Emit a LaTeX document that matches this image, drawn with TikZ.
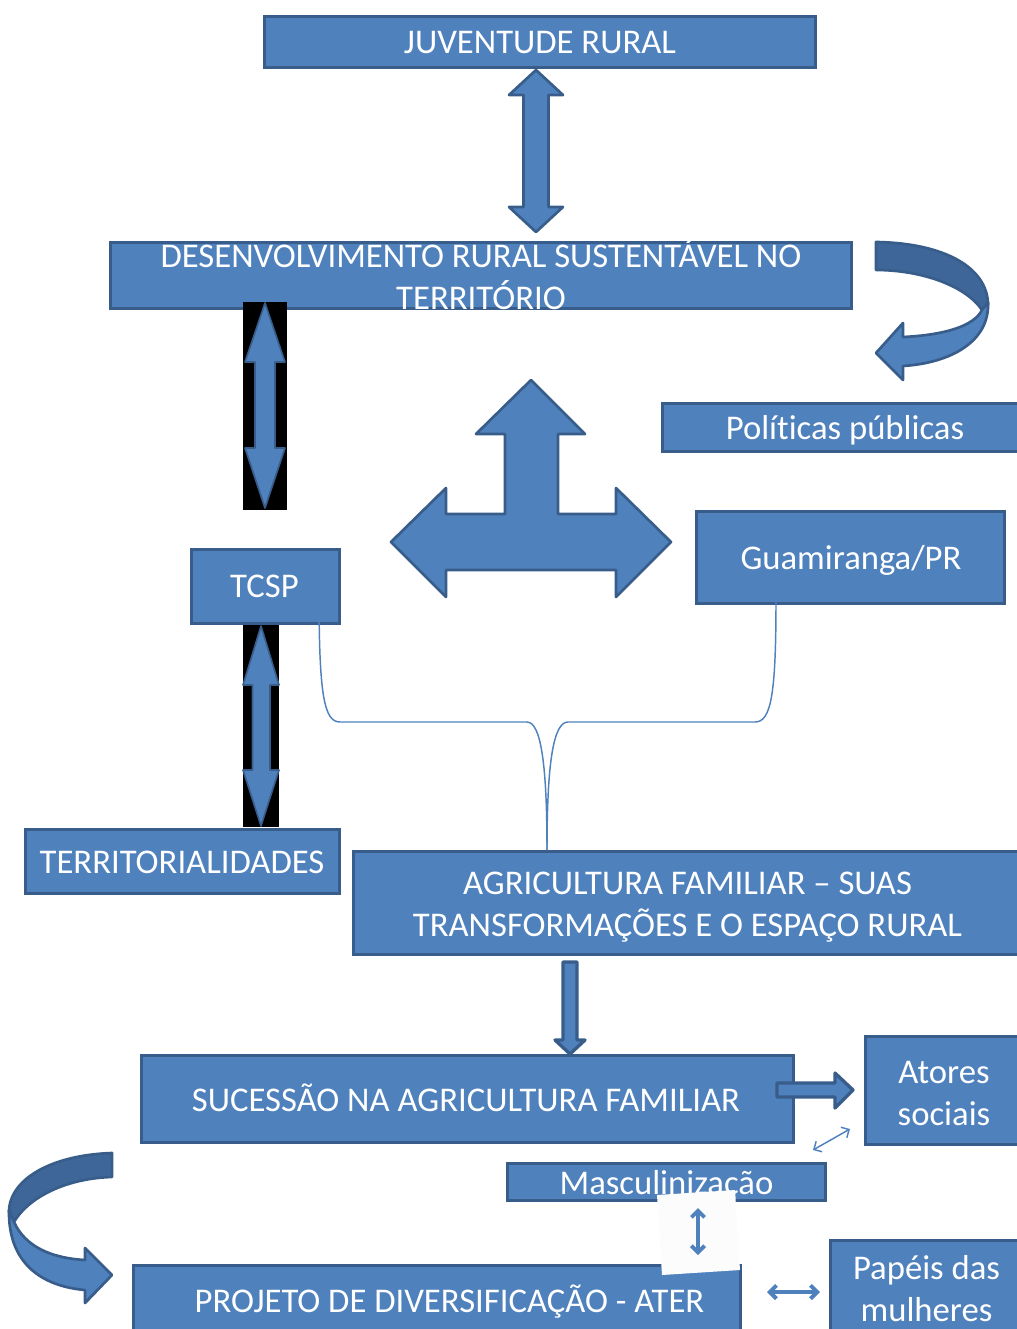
\documentclass[tikz,border=0pt]{standalone}
\usepackage{fontspec}
\setmainfont{Carlito}[Ligatures=NoCommon]
\usetikzlibrary{arrows.meta}
\definecolor{boxblue}{RGB}{79,129,189}
\definecolor{boxline}{RGB}{56,93,138}
\definecolor{bandblue}{RGB}{62,102,152}
\tikzset{every picture/.style={line width=0.75pt}}
\tikzset{
  box/.style={draw=boxline, fill=boxblue, line width=2.25pt},
  blockarrow/.style={draw=boxline, fill=boxblue, line width=2pt, line join=round},
  darkband/.style={draw=boxline, fill=bandblue, line width=2pt, line join=round},
  boxtext/.style={text=white, inner sep=0.75pt, font=\fontsize{26}{31.5}\selectfont, align=center},
  bracelink/.style={draw=boxblue, line width=1.1pt},
  twohead/.style={draw=boxblue, {Straight Barb[length=#1, width=2*#1]}-{Straight Barb[length=#1, width=2*#1]}}
}

\begin{document}
\begin{tikzpicture}[x=0.75pt,y=0.75pt,yscale=-1,xscale=1]
    \clip (0,0) rectangle (1017,1329);
    %Shape: Rectangle
    \draw[box] (264,16) rectangle (815,67);
    \draw[box] (110,242) rectangle (851,308);
    \draw[box] (662,403) rectangle (1030,451);
    \draw[box] (696,511) rectangle (1004,603);
    \draw[box] (191,549) rectangle (339,623);
    \draw[box] (25,829) rectangle (339,893);
    \draw[box] (353,851) rectangle (1030,954);
    \draw[box] (141,1055) rectangle (793,1142);
    \draw[box] (865,1036) rectangle (1030,1144);
    \draw[box] (507,1163) rectangle (825,1200);
    \draw[box] (133,1265) rectangle (740,1340);
    \draw[box] (830,1240) rectangle (1030,1340);
    % Text Node
    \node[boxtext, anchor=base] (juventude) at (540,53) {JUVENTUDE RURAL};
    \node[boxtext] (desenvolvimento) at (481,274) {DESENVOLVIMENTO RURAL SUSTENTÁVEL NO\\TERRITÓRIO};
    \node[boxtext, anchor=base] (politicas) at (845,439) {Políti\kern0pt cas públicas};
    \node[boxtext, anchor=base] (guamiranga) at (851,569) {Guamiranga/PR};
    \node[boxtext, anchor=base] (tcsp) at (264.5,597) {TCSP};
    \node[boxtext, anchor=base] (territorialidades) at (182,873) {TERRITORIALIDADES};
    \node[boxtext] (agricultura) at (687.5,907) {AGRICULTURA FAMILIAR – SUAS\\TRANSFORMAÇÕES E O ESPAÇO RURAL};
    \node[boxtext, anchor=base] (sucessao) at (466,1111) {SUCESSÃO NA AGRICULTURA FAMILIAR};
    \node[boxtext] (atores) at (944,1093) {Atores\\sociais};
    \node[boxtext, anchor=base] (masculinizacao) at (666.5,1194) {Masculinização};
    \node[boxtext, anchor=base] (projeto) at (449.5,1312) {PROJETO DE DIVERSIFICAÇÃO - ATER};
    \node[boxtext] (papeis) at (926.5,1289) {Papéis das\\mulheres};
    %Shape: Up Down Arrow
    \draw[blockarrow] (536,70) -- (563,95) -- (548.5,95) -- (548.5,207) -- (563,207) -- (536,232) -- (509,207) -- (523.5,207) -- (523.5,95) -- (509,95) -- cycle ;
    %Shape: Rectangle
    \fill[black] (243,302) rectangle (287,510);
    \fill[black] (243,625) rectangle (279,827);
    %Shape: Up Down Arrow
    \draw[blockarrow, line width=1.2pt] (265,303) -- (285,362) -- (275,362) -- (275,448) -- (285,448) -- (265,508) -- (245,448) -- (255,448) -- (255,362) -- (245,362) -- cycle ;
    \draw[blockarrow, line width=1.2pt] (261,626) -- (279,685) -- (270,685) -- (270,770) -- (279,770) -- (261,826) -- (243,770) -- (252.5,770) -- (252.5,685) -- (243,685) -- cycle ;
    %Shape: Left Right Up Arrow
    \draw[blockarrow] (531,380) -- (585,434) -- (558,434) -- (558,514) -- (616,514) -- (616,488) -- (671,542) -- (616,597) -- (616,570) -- (446,570) -- (446,597) -- (391,542) -- (446,488) -- (446,514) -- (505,514) -- (505,434) -- (476,434) -- cycle ;
    %Shape: Curved Arrow
    \draw[darkband] (876,242) .. controls (945,243) and (988,268) .. (988,305) -- (982,310) .. controls (966,286) and (922,270) .. (876,270) -- cycle ;
    \draw[blockarrow] (988,302) .. controls (990,342) and (950,363) .. (903,366) -- (903,380) -- (876,353) -- (903,323) -- (903,337) .. controls (945,335) and (974,326) .. (982,310) -- cycle ;
    \draw[darkband] (112,1153) .. controls (50,1155) and (9,1180) .. (9,1212) -- (14,1222) .. controls (30,1195) and (70,1178) .. (112,1177) -- cycle ;
    \draw[blockarrow] (9,1210) .. controls (8,1262) and (40,1286) .. (85,1290) -- (85,1303) -- (112,1275) -- (85,1248) -- (85,1260) .. controls (50,1258) and (25,1246) .. (14,1222) -- cycle ;
    %Shape: Down Arrow
    \draw[blockarrow, line width=2.5pt] (563,962) -- (577,962) -- (577,1040) -- (585,1040) -- (570,1054) -- (555,1040) -- (563,1040) -- cycle ;
    %Shape: Right Arrow
    \draw[blockarrow, line width=2.5pt] (777,1083) -- (835,1083) -- (835,1073) -- (853,1090) -- (835,1108) -- (835,1097) -- (777,1097) -- cycle ;
    %Curve Lines
    \coordinate (tcspfoot) at (319,592);
    \coordinate (guamfoot) at (776,600);
    \coordinate (agrihead) at (547,850);
    \draw[bracelink] (tcspfoot) .. controls (319,695) and (324,722) .. (340,722) -- (527,722) .. controls (541,722) and (547,765) .. (agrihead) ;
    \draw[bracelink] (guamfoot) .. controls (776,695) and (771,722) .. (755,722) -- (568,722) .. controls (553,722) and (547,765) .. (agrihead) ;
    %Shape: Polygon
    \fill[white!99!black] (657,1195) -- (735,1190) -- (740,1270) -- (662,1275) -- cycle ;
    %Straight Lines
    \coordinate (masfoot) at (698,1208);
    \coordinate (projhead) at (698,1255);
    \draw[twohead=5pt, line width=2.8pt] (masfoot) -- (projhead) ;
    \coordinate (sucfoot) at (813,1150);
    \coordinate (atorfoot) at (850,1129);
    \draw[twohead=4.5pt, line width=1.1pt] (sucfoot) -- (atorfoot) ;
    \coordinate (projside) at (767,1292);
    \coordinate (papside) at (820,1292);
    \draw[twohead=5pt, line width=3pt] (projside) -- (papside) ;
\end{tikzpicture}
\end{document}
